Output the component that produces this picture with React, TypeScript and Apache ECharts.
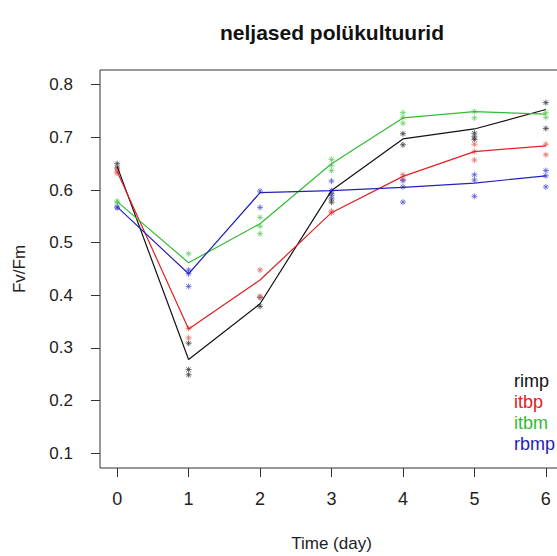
import React, { useEffect, useRef } from "react";
import * as echarts from "echarts";

const title = "neljased polükultuurid";
const xName = "Time (day)";
const yName = "Fv/Fm";
const days = [0, 1, 2, 3, 4, 5, 6];
const yTicks = [0.1, 0.2, 0.3, 0.4, 0.5, 0.6, 0.7, 0.8];
const seriesNames = ["rimp", "itbp", "itbm", "rbmp"];
const lineColors = ["#111111", "#dd2222", "#33bb33", "#2222bb"];
const pointColors = ["#444444", "#e86a6a", "#6ccf6c", "#5a5ad6"];

// means (lines)
const rimpMean = [0.645, 0.278, 0.384, 0.599, 0.697, 0.716, 0.753];
const itbpMean = [0.635, 0.336, 0.429, 0.557, 0.626, 0.673, 0.684];
const itbmMean = [0.578, 0.462, 0.536, 0.65, 0.737, 0.749, 0.744];
const rbmpMean = [0.568, 0.441, 0.595, 0.599, 0.605, 0.613, 0.627];

// replicates per day (points)
const rimpReps = [
  [0.65, 0.642],
  [0.309, 0.259, 0.249],
  [0.396, 0.379],
  [0.593, 0.583, 0.577],
  [0.707, 0.686],
  [0.708, 0.701, 0.696],
  [0.766, 0.717],
];
const itbpReps = [
  [0.64, 0.636, 0.632],
  [0.337, 0.319],
  [0.448, 0.398],
  [0.557, 0.56],
  [0.629, 0.62],
  [0.687, 0.673, 0.657],
  [0.687, 0.667],
];
const itbmReps = [
  [0.579, 0.576],
  [0.479],
  [0.548, 0.531, 0.517],
  [0.658, 0.647, 0.637],
  [0.747, 0.738, 0.727],
  [0.749, 0.737],
  [0.747, 0.738],
];
const rbmpReps = [
  [0.568, 0.566],
  [0.448, 0.441, 0.417],
  [0.598, 0.567],
  [0.617, 0.599, 0.589],
  [0.618, 0.606, 0.577],
  [0.629, 0.619, 0.588],
  [0.637, 0.627, 0.606],
];

const means = [rimpMean, itbpMean, itbmMean, rbmpMean];
const reps = [rimpReps, itbpReps, itbmReps, rbmpReps];

const asterisk = "path://M4 0V8M0 4H8M1.2 1.2L6.8 6.8M6.8 1.2L1.2 6.8";

export default function App() {
  const ref = useRef<HTMLDivElement>(null);
  useEffect(() => {
    if (!ref.current) return;
    const chart = echarts.init(ref.current, null, { renderer: "svg", width: 557, height: 556 });
    const font = "Liberation Sans, Arial, sans-serif";
    const series: any[] = [];
    seriesNames.forEach((name, i) => {
      const pts: number[][] = [];
      reps[i].forEach((vals, d) => vals.forEach((v) => pts.push([days[d], v])));
      series.push({
        type: "scatter",
        name: name + " points",
        data: pts,
        symbol: asterisk,
        symbolSize: 6,
        itemStyle: { color: "rgba(0,0,0,0)", borderColor: pointColors[i], borderWidth: 1 },
        z: 2,
      });
    });
    seriesNames.forEach((name, i) => {
      series.push({
        type: "line",
        name,
        data: days.map((d, k) => [d, means[i][k]]),
        showSymbol: false,
        lineStyle: { color: lineColors[i], width: 1.2 },
        z: 3,
      });
    });
    chart.setOption({
      animation: false,
      backgroundColor: "#ffffff",
      textStyle: { fontFamily: font },
      grid: {
        left: 100,
        top: 70,
        width: 463,
        height: 398,
        outerBoundsMode: "none",
        containLabel: false,
        show: true,
        borderColor: "#333333",
        borderWidth: 1,
        backgroundColor: "transparent",
      },
      xAxis: {
        type: "value",
        min: -0.24,
        max: 6.24,
        name: xName,
        nameLocation: "middle",
        nameGap: 67,
        nameTextStyle: { fontSize: 17, color: "#222", fontFamily: font },
        axisLine: { show: false, onZero: false },
        splitLine: { show: false },
        axisTick: { show: true, inside: false, length: 9, lineStyle: { color: "#333" }, customValues: days },
        axisLabel: { fontSize: 18, color: "#222", margin: 22, customValues: days, fontFamily: font },
      },
      yAxis: {
        type: "value",
        min: 0.072,
        max: 0.828,
        name: yName,
        nameLocation: "middle",
        nameGap: 72,
        nameRotate: 90,
        nameTextStyle: { fontSize: 17, color: "#222", fontFamily: font },
        axisLine: { show: false, onZero: false },
        splitLine: { show: false },
        axisTick: { show: true, inside: false, length: 9, lineStyle: { color: "#333" }, customValues: yTicks },
        axisLabel: {
          fontSize: 17,
          color: "#222",
          margin: 27,
          customValues: yTicks,
          fontFamily: font,
          formatter: (v: number) => v.toFixed(1),
        },
      },
      graphic: [
        {
          type: "text",
          x: 332,
          y: 32,
          style: {
            text: title,
            fontSize: 21,
            fontWeight: "bold",
            fill: "#111",
            fontFamily: font,
            align: "center",
            verticalAlign: "middle",
          },
        },
        ...seriesNames.map((n, i) => ({
          type: "text",
          x: 514,
          y: 381 + i * 21,
          style: {
            text: n,
            fontSize: 18,
            fill: lineColors[i],
            fontFamily: font,
            align: "left",
            verticalAlign: "middle",
          },
        })),
      ],
      series,
    });
    return () => chart.dispose();
  }, []);
  return (
    <div
      ref={ref}
      style={{ position: "fixed", left: 0, top: 0, width: 557, height: 556, overflow: "hidden", background: "#fff" }}
    />
  );
}
